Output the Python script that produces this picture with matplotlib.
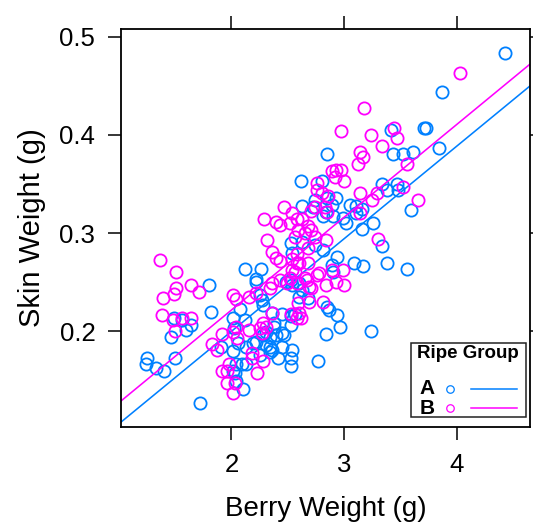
import matplotlib
matplotlib.use('Agg')
import matplotlib.pyplot as plt
from matplotlib.patches import Rectangle
from matplotlib.lines import Line2D

plt.rcParams['font.family'] = ['Liberation Sans', 'DejaVu Sans']

# Ripe group A (blue)
a_x = [4.43, 3.87, 3.71, 3.73, 3.42, 3.43, 3.52, 3.61, 3.84, 2.85,
       2.62, 2.80, 3.34, 3.47, 3.38, 3.48, 3.59, 3.26, 3.16, 3.34,
       3.38, 3.56, 3.17, 3.09, 2.94, 2.89, 2.85, 2.87, 2.94, 2.96,
       2.84, 3.24, 2.77, 3.02, 2.90, 2.63, 2.74, 2.85, 2.93, 2.89,
       3.05, 3.11, 3.16, 2.84, 2.81, 2.99, 3.11,
       2.53, 2.63, 2.54, 2.90, 2.60, 2.63, 2.54, 2.53, 2.53, 2.72,
       2.74, 2.81,
       2.12, 2.26, 2.22, 2.08, 2.01, 2.02, 2.06, 1.91, 2.01, 2.13,
       2.19, 2.22, 2.04, 2.09, 2.13, 2.03, 2.10, 2.25, 2.34, 2.27,
       2.36, 2.38, 2.31, 2.34, 2.40, 2.45, 2.34, 2.45, 2.41, 2.48,
       2.54, 2.60, 2.56, 2.68,
       1.80, 1.82, 1.49, 1.56, 1.60, 1.64, 1.46, 1.25, 1.24, 1.33,
       1.40, 1.50, 1.72,
       2.25, 2.28, 2.53, 2.45, 2.38, 2.47, 2.53, 2.12, 2.28, 2.31,
       2.36, 2.01, 2.04, 2.22, 2.53]
a_y = [0.483, 0.444, 0.407, 0.407, 0.405, 0.380, 0.380, 0.383, 0.387, 0.380,
       0.353, 0.353, 0.350, 0.350, 0.344, 0.344, 0.323, 0.310, 0.304, 0.287,
       0.270, 0.263, 0.266, 0.269, 0.276, 0.267, 0.225, 0.222, 0.217, 0.204,
       0.197, 0.200, 0.170, 0.310, 0.317, 0.328, 0.334, 0.336, 0.336, 0.329,
       0.329, 0.328, 0.325, 0.321, 0.317, 0.315, 0.320,
       0.290, 0.291, 0.280, 0.260, 0.249, 0.242, 0.181, 0.173, 0.165, 0.327,
       0.288, 0.283,
       0.263, 0.263, 0.253, 0.223, 0.214, 0.203, 0.188, 0.184, 0.180, 0.184,
       0.188, 0.189, 0.167, 0.167, 0.167, 0.157, 0.141, 0.176, 0.179, 0.232,
       0.219, 0.204, 0.199, 0.194, 0.196, 0.198, 0.184, 0.184, 0.173, 0.250,
       0.247, 0.235, 0.218, 0.234,
       0.247, 0.220, 0.214, 0.211, 0.201, 0.206, 0.194, 0.173, 0.167, 0.163,
       0.160, 0.173, 0.127,
       0.237, 0.227, 0.216, 0.218, 0.208, 0.196, 0.206, 0.211, 0.196, 0.186,
       0.181, 0.160, 0.149, 0.250, 0.252]

# Ripe group B (magenta)
b_x = [4.03, 3.18, 2.97, 3.44, 3.47, 3.24, 3.34, 3.14, 3.17, 3.12,
       3.56, 2.89, 2.93, 2.97, 2.92, 3.00, 2.76, 2.76, 2.80, 2.86,
       3.14, 3.29, 3.25, 3.52, 3.66, 3.30, 2.74, 2.85, 2.58, 2.63,
       2.68, 2.59, 2.65, 2.71, 2.74, 2.56, 2.84, 2.68, 2.54, 2.60,
       2.89, 2.99, 2.56, 2.65, 2.76, 2.84, 2.93, 3.00, 2.59, 2.69,
       2.81, 2.60, 2.62, 2.58, 3.14,
       2.29, 2.40, 2.43, 2.52, 2.32, 2.36, 2.40, 2.43, 2.58, 2.58,
       2.68, 2.71, 2.83, 2.47, 2.54, 2.54, 2.78, 2.71, 2.67, 2.43,
       2.52, 2.58, 2.69,
       2.01, 2.04, 2.16, 2.22, 2.01, 2.04, 2.05, 2.16, 2.25, 2.28,
       2.27, 2.31, 2.36, 2.36, 2.18, 2.18, 2.28, 2.23, 1.92, 1.96,
       1.98, 1.96, 2.03, 2.01, 2.53,
       1.37, 1.51, 1.51, 1.49, 1.39, 1.64, 1.71, 1.38, 1.48, 1.56,
       1.64, 1.50, 1.83, 1.87, 1.92,
       2.34, 2.49]
b_y = [0.463, 0.427, 0.404, 0.407, 0.397, 0.400, 0.389, 0.383, 0.377, 0.370,
       0.370, 0.363, 0.364, 0.364, 0.357, 0.353, 0.351, 0.344, 0.341, 0.338,
       0.341, 0.341, 0.334, 0.347, 0.334, 0.294, 0.327, 0.321, 0.314, 0.314,
       0.307, 0.303, 0.300, 0.303, 0.296, 0.296, 0.293, 0.285, 0.274, 0.269,
       0.262, 0.262, 0.260, 0.254, 0.257, 0.247, 0.250, 0.247, 0.229, 0.230,
       0.230, 0.219, 0.213, 0.214, 0.320,
       0.314, 0.311, 0.308, 0.310, 0.293, 0.281, 0.275, 0.272, 0.279, 0.270,
       0.270, 0.322, 0.327, 0.327, 0.320, 0.262, 0.259, 0.244, 0.252, 0.252,
       0.254, 0.249, 0.245,
       0.237, 0.233, 0.235, 0.239, 0.199, 0.204, 0.193, 0.201, 0.203, 0.208,
       0.198, 0.204, 0.219, 0.249, 0.178, 0.173, 0.170, 0.157, 0.160, 0.160,
       0.167, 0.147, 0.147, 0.137, 0.218,
       0.273, 0.260, 0.244, 0.238, 0.234, 0.247, 0.240, 0.217, 0.211, 0.213,
       0.213, 0.200, 0.187, 0.181, 0.197,
       0.244, 0.249]

groups = ['A', 'B']
colors = ['#0080ff', '#ff00ff']
# fitted lines (intercept, slope)
fits = [(0.0113, 0.0943), (0.0326, 0.0945)]

xlim = (1.02, 4.65)
ylim = (0.1025, 0.5078)

W, H = 533, 522
fig = plt.figure(figsize=(W / 100, H / 100), dpi=100)
ax = fig.add_axes([121 / W, 1 - 427 / H, (530 - 121) / W, (427 - 29) / H])

for gx, gy, col, (b0, b1) in zip([a_x, b_x], [a_y, b_y], colors, fits):
    ax.plot(gx, gy, 'o', ms=8.8, mfc='none', mec=col, mew=1.3)
    ax.plot(xlim, [b0 + b1 * xlim[0], b0 + b1 * xlim[1]], color=col, lw=1.15)

ax.set_xlim(xlim)
ax.set_ylim(ylim)
ax.set_xticks([2, 3, 4])
ax.set_yticks([0.2, 0.3, 0.4, 0.5])
ax.set_yticklabels(['0.2', '0.3', '0.4', '0.5'])
ax.tick_params(direction='out', length=9.5, width=1.1, labelsize=18.5,
               top=True, right=True, pad=9)
for s in ax.spines.values():
    s.set_linewidth(1.3)

ax.set_xlabel('Berry Weight (g)', fontsize=20, labelpad=14)
ax.set_ylabel('Skin Weight (g)', fontsize=21, labelpad=10)


# legend box drawn in figure pixels (lattice style key)
def fx(x):
    return x / W


def fy(y):
    return 1 - y / H


fig.patches.append(Rectangle((fx(411), fy(417)), fx(526) - fx(411), fy(343) - fy(417),
                             transform=fig.transFigure, fill=False, lw=1.1, ec='#222222'))
fig.text(fx(468), fy(354), 'Ripe Group', ha='center', va='center',
         fontsize=13.5, fontweight='bold')
for i, (g, col) in enumerate(zip(groups, colors)):
    yy = fy(389 + 19 * i)
    fig.text(fx(427), yy, g, ha='center', va='center', fontsize=15, fontweight='bold')
    fig.lines.append(Line2D([fx(450)], [yy], transform=fig.transFigure, marker='o',
                            ms=5.4, mfc='none', mec=col, mew=0.9))
    fig.lines.append(Line2D([fx(471), fx(517)], [yy, yy], transform=fig.transFigure,
                            color=col, lw=1.1))

fig.savefig('out.png', dpi=100)
